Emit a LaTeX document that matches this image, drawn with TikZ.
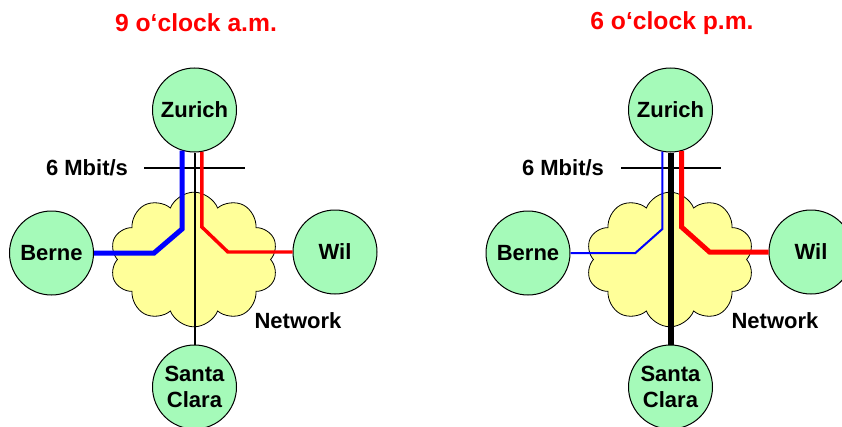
\documentclass[tikz,border=0pt]{standalone}
\usepackage{fontspec}
\setmainfont{Liberation Sans}
\usetikzlibrary{shapes.symbols,calc}

\definecolor{siteGreen}{RGB}{165,250,185}
\definecolor{netYellow}{RGB}{255,255,153}

\tikzset{
	site/.style={circle,draw,line width=0.75pt,fill=siteGreen,minimum size=63pt,inner sep=0pt,
		font=\fontsize{16.5}{20}\selectfont\bfseries,align=center},
	net/.style={cloud,cloud puffs=10,cloud puff arc=135,cloud ignores aspect,draw,line width=0.6pt,
		fill=netYellow,minimum width=126pt,minimum height=101pt,inner sep=0pt},
	heading/.style={font=\fontsize{18.5}{22}\selectfont\bfseries,text=red},
	tag/.style={font=\fontsize{16.5}{20}\selectfont\bfseries},
	rate/.style={line width=1.1pt},
}

\begin{document}
\begin{tikzpicture}[x=0.75pt,y=0.75pt]
		\useasboundingbox (0,0) rectangle (842,426);
		% morning
		\begin{scope}
			\node[heading] (headL) at (196,403) {9 o‘clock a.m.};
			\node[net] (netL) at (194,166.5) {};
			\node[site] (zurL) at (194.5,316) {Zurich};
			\node[site] (berL) at (51.5,173) {Berne};
			\node[site] (wilL) at (335,174) {Wil};
			\node[site] (scL) at (194.5,39) {Santa\\Clara};
			\node[tag] (nwL) at (298,105) {Network};
			\node[tag] (rtL) at (87,258) {6 Mbit/s};
			\coordinate (rL1) at (144,258);
			\coordinate (rL2) at (245,258);
			%
			\draw[rate] (rL1) -- (rL2);
			\draw[line width=1.5pt] (zurL.south) -- (scL.north);
			\draw[blue,line width=3.75pt] (zurL.-107) -- ($(berL.center -| zurL.-107)+(0,24)$) -- ++(-28,-24) -- (berL);
			\draw[red,line width=2.6pt] (zurL.-80) -- ($(wilL.center -| zurL.-80)+(0,25)$) -- ++(26,-25) -- (wilL);
		\end{scope}
		% evening
		\begin{scope}
			\node[heading] (headR) at (672,403) {6 o‘clock p.m.};
			\node[net] (netR) at (670,166.5) {};
			\node[site] (zurR) at (670.5,316) {Zurich};
			\node[site] (berR) at (528,173) {Berne};
			\node[site] (wilR) at (811,174) {Wil};
			\node[site] (scR) at (670.5,39) {Santa\\Clara};
			\node[tag] (nwR) at (775,105) {Network};
			\node[tag] (rtR) at (563,258) {6 Mbit/s};
			\coordinate (rR1) at (621,258);
			\coordinate (rR2) at (721,258);
			%
			\draw[rate] (rR1) -- (rR2);
			\draw[line width=4.5pt] (zurR.south) -- (scR.north);
			\draw[blue,line width=1.5pt] (zurR.-101) -- ($(berR.center -| zurR.-101)+(0,24)$) -- ++(-27,-24) -- (berR);
			\draw[red,line width=3.75pt] (zurR.-75) -- ($(wilR.center -| zurR.-75)+(0,25)$) -- ++(28,-25) -- (wilR);
		\end{scope}
	\end{tikzpicture}
\end{document}
